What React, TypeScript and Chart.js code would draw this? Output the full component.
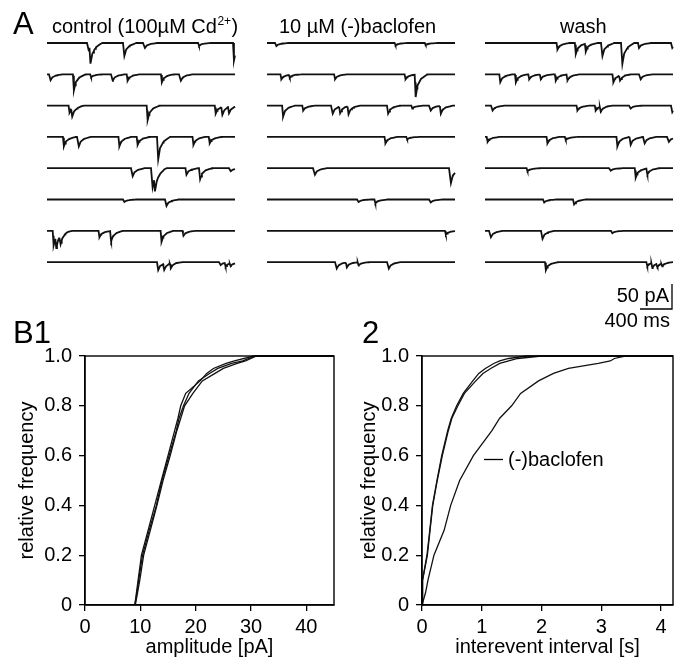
import React, { useEffect, useRef } from "react";
import { Chart, registerables } from "chart.js";

Chart.register(...registerables);

const FONT = "'Liberation Sans', Arial, Helvetica, sans-serif";
const INK = "#111111";

// ---------------- Panel A data: miniature events per sweep, [time ms, amplitude pA]
const TRACE_MS = 2350;
const SCALE_PA = 50;
const SCALE_MS = 400;
const COLUMN_TITLES = ["control (100µM Cd", "10 µM (-)baclofen", "wash"];

const CONTROL_EVENTS: number[][][] = [
  [[507, 13], [531, 35], [955, 26], [1212, 10], [1889, 6], [2325, 35]],
  [[33, 12], [324, 32], [540, 6], [810, 13], [996, 13], [1424, 16], [1661, 13]],
  [[270, 14], [303, 16], [1246, 29], [2097, 16], [2180, 16], [2263, 13]],
  [[199, 19], [386, 19], [893, 19], [1121, 16], [1378, 45], [1819, 16], [2022, 13]],
  [[1059, 16], [1308, 38], [1337, 29], [1731, 13], [1902, 22], [2284, 6]],
  [[955, 5], [1482, 13]],
  [[71, 29], [104, 22], [158, 16], [644, 13], [789, 22], [1420, 22], [1694, 10]],
  [[1378, 16], [1453, 13], [1536, 10], [2159, 6], [2221, 8], [2284, 6]],
];

const BACLOFEN_EVENTS: number[][][] = [
  [[105, 6], [1595, 5], [1972, 4]],
  [[168, 10], [273, 6], [839, 10], [1720, 10], [1846, 45]],
  [[189, 22], [441, 10], [810, 16], [902, 13], [1007, 16], [1502, 16], [1804, 6], [2035, 10], [2161, 16]],
  [[1469, 13], [1741, 5]],
  [[587, 13], [2287, 30]],
  [[1133, 5], [1343, 8], [2035, 6]],
  [[2224, 8]],
  [[860, 13], [986, 10], [1133, 7], [1511, 13]],
];

const WASH_EVENTS: number[][][] = [
  [[894, 13], [1123, 22], [1248, 16], [1456, 26], [1705, 42], [1913, 10], [2329, 10]],
  [[179, 16], [374, 16], [541, 10], [686, 10], [873, 13], [1019, 13], [1593, 16], [1676, 10], [1934, 10]],
  [[83, 10], [1144, 10], [1372, 10], [1435, 10], [1809, 6], [2329, 13]],
  [[21, 10], [769, 13], [998, 6], [1643, 19], [1809, 16], [1984, 13], [2287, 10]],
  [[520, 6], [1560, 5], [1872, 19], [2017, 13]],
  [[728, 6], [1102, 10]],
  [[62, 13], [707, 16], [1580, 5]],
  [[749, 16], [2017, 8], [2080, 10], [2142, 8], [2204, 6]],
];

// waveform of one miniature current (ms after onset, fraction of its peak)
const EVENT_SHAPE_MS = [0, 12, 35, 80, 160];
const EVENT_SHAPE_FRAC = [0, 1, 0.5, 0.2, 0];

// ---------------- Panel B1: cumulative amplitude distributions
const B1_LEVELS = [0, 0.05, 0.1, 0.2, 0.3, 0.4, 0.5, 0.6, 0.7, 0.75, 0.8, 0.85, 0.9, 0.93, 0.95, 0.97, 0.98, 1.0];
const B1_CONTROL = [9.0, 9.3, 9.6, 10.2, 11.4, 12.6, 13.8, 15.0, 16.2, 16.8, 17.3, 18.2, 20.8, 22.0, 23.2, 25.5, 27.0, 30.5];
const B1_BACLOFEN = [9.1, 9.5, 9.9, 10.6, 11.8, 13.0, 14.1, 15.4, 16.6, 17.3, 18.0, 19.5, 21.2, 23.5, 25.0, 27.5, 29.0, 31.0];
const B1_WASH = [9.0, 9.4, 9.7, 10.4, 11.6, 12.9, 13.9, 15.2, 16.5, 17.0, 17.8, 18.8, 20.5, 22.5, 24.0, 26.5, 28.5, 30.8];

// ---------------- Panel B2: cumulative interevent interval distributions
const B2_LEVELS = [0, 0.05, 0.1, 0.2, 0.3, 0.4, 0.5, 0.6, 0.7, 0.75, 0.8, 0.85, 0.9, 0.93, 0.95, 0.97, 0.98, 0.99, 1.0];
const B2_CONTROL = [0, 0.005, 0.012, 0.083, 0.13, 0.175, 0.25, 0.33, 0.43, 0.49, 0.58, 0.69, 0.85, 0.95, 1.06, 1.2, 1.3, 1.45, 1.75];
const B2_WASH = [0, 0.005, 0.015, 0.09, 0.135, 0.18, 0.255, 0.34, 0.44, 0.5, 0.6, 0.71, 0.9, 1.02, 1.15, 1.3, 1.45, 1.6, 2.0];
const B2_BACLOFEN = [0, 0.06, 0.1, 0.2, 0.37, 0.48, 0.63, 0.86, 1.17, 1.3, 1.5, 1.65, 1.95, 2.2, 2.45, 2.95, 3.15, 3.22, 3.4];

const B1_TICKS_X = { max: 45, step: 10 };
const B2_TICKS_X = { max: 4.2, step: 1 };

// ---------------- layout (pixels)
const A_W = 688;
const A_H = 350;
const COL_LEFT_PX = [47, 267, 485];
const TRACE_W_PX = 188;
const ROW0_PX = 43;
const ROW_STEP_PX = 31.3;
const PX_PER_PA = 0.5;
const SCALEBAR_CORNER_PX = [672, 309];

const MS_PER_PX = TRACE_MS / TRACE_W_PX;

function shapeAt(d: number): number {
  const n = EVENT_SHAPE_MS.length;
  if (d < 0 || d > EVENT_SHAPE_MS[n - 1]) return 0;
  for (let k = 0; k < n - 1; k++) {
    const a = EVENT_SHAPE_MS[k];
    const b = EVENT_SHAPE_MS[k + 1];
    if (d >= a && d <= b) {
      return EVENT_SHAPE_FRAC[k] + ((EVENT_SHAPE_FRAC[k + 1] - EVENT_SHAPE_FRAC[k]) * (d - a)) / (b - a);
    }
  }
  return 0;
}

function buildSweep(events: number[][], xOff: number, yOff: number) {
  const times = new Set<number>();
  for (let t = 0; t <= TRACE_MS; t += 25) times.add(t);
  times.add(TRACE_MS);
  events.forEach(([et]) => EVENT_SHAPE_MS.forEach((m) => {
    const t = et + m;
    if (t >= 0 && t <= TRACE_MS) times.add(t);
  }));
  const sorted = Array.from(times).sort((a, b) => a - b);
  return sorted.map((t) => {
    let v = 0;
    events.forEach(([et, amp]) => { v -= amp * shapeAt(t - et); });
    return { x: xOff + t, y: yOff + v };
  });
}

function zip(xs: number[], ys: number[], endX?: number) {
  const pts = xs.map((x, i) => ({ x, y: ys[i] }));
  if (endX !== undefined) pts.push({ x: endX, y: 1 });
  return pts;
}

const framePlugin = {
  id: "frame",
  afterDatasetsDraw(chart: any) {
    const { ctx, chartArea: a } = chart;
    ctx.save();
    ctx.strokeStyle = "#000";
    ctx.lineWidth = 1.4;
    ctx.strokeRect(a.left, a.top, a.right - a.left, a.bottom - a.top);
    ctx.restore();
  },
};

function cdfConfig(opts: {
  datasets: any[];
  xMax: number;
  xStep: number;
  xTitle: string;
  yWidth: number;
  xHeight: number;
  padTop: number;
  padRight: number;
  yTitlePad: number;
  extra?: any;
}) {
  const tickFont = { family: FONT, size: 20 };
  return {
    type: "line",
    data: { datasets: opts.datasets },
    options: {
      animation: false,
      responsive: false,
      maintainAspectRatio: false,
      layout: { padding: { top: opts.padTop, right: opts.padRight, left: 0, bottom: 0 } },
      plugins: { legend: { display: false }, tooltip: { enabled: false } },
      elements: { point: { radius: 0 }, line: { tension: 0 } },
      scales: {
        x: {
          type: "linear",
          min: 0,
          max: opts.xMax,
          grid: { display: true, drawOnChartArea: false, drawTicks: true, tickLength: 6, color: "#000", lineWidth: 1.3 },
          border: { display: true, color: "#000", width: 1.4 },
          ticks: { stepSize: opts.xStep, includeBounds: false, color: "#000", font: tickFont, padding: 4, maxRotation: 0 },
          title: { display: true, text: opts.xTitle, color: "#000", font: tickFont, padding: { top: 0, bottom: 4 } },
          afterFit: (s: any) => { s.height = opts.xHeight; },
        },
        y: {
          type: "linear",
          min: 0,
          max: 1,
          grid: { display: true, drawOnChartArea: false, drawTicks: true, tickLength: 6, color: "#000", lineWidth: 1.3 },
          border: { display: true, color: "#000", width: 1.4 },
          ticks: {
            stepSize: 0.2,
            color: "#000",
            font: tickFont,
            padding: 7,
            callback: (v: any) => (Math.abs(v) < 1e-9 ? "0" : Number(v).toFixed(1)),
          },
          title: { display: true, text: "relative frequency", color: "#000", font: tickFont, padding: { top: opts.yTitlePad, bottom: 0 } },
          afterFit: (s: any) => { s.width = opts.yWidth; },
        },
      },
    },
    plugins: opts.extra ? [framePlugin, opts.extra] : [framePlugin],
  } as any;
}

function curve(pts: any[]) {
  return { data: pts, borderColor: INK, borderWidth: 1.3, pointRadius: 0, fill: false, clip: false };
}

export default function App() {
  const aRef = useRef<HTMLCanvasElement>(null);
  const b1Ref = useRef<HTMLCanvasElement>(null);
  const b2Ref = useRef<HTMLCanvasElement>(null);

  useEffect(() => {
    const charts: Chart[] = [];
    // -------- Panel A
    const xMin = -COL_LEFT_PX[0] * MS_PER_PX;
    const xMax = (A_W - COL_LEFT_PX[0]) * MS_PER_PX;
    const yMax = ROW0_PX / PX_PER_PA;
    const yMin = yMax - A_H / PX_PER_PA;
    const columns = [CONTROL_EVENTS, BACLOFEN_EVENTS, WASH_EVENTS];
    const sweepSets: any[] = [];
    columns.forEach((col, c) => {
      const xOff = (COL_LEFT_PX[c] - COL_LEFT_PX[0]) * MS_PER_PX;
      col.forEach((events, r) => {
        const yOff = (-r * ROW_STEP_PX) / PX_PER_PA;
        sweepSets.push({
          data: buildSweep(events, xOff, yOff),
          borderColor: INK,
          borderWidth: 1.8,
          pointRadius: 0,
          fill: false,
          clip: false,
        });
      });
    });
    const cx = (SCALEBAR_CORNER_PX[0] - COL_LEFT_PX[0]) * MS_PER_PX;
    const cy = yMax - SCALEBAR_CORNER_PX[1] / PX_PER_PA;
    sweepSets.push({
      data: [
        { x: cx - SCALE_MS, y: cy },
        { x: cx, y: cy },
        { x: cx, y: cy + SCALE_PA },
      ],
      borderColor: "#000",
      borderWidth: 1.3,
      pointRadius: 0,
      fill: false,
      clip: false,
    });

    const textPlugin = {
      id: "aText",
      afterDraw(chart: any) {
        const ctx = chart.ctx;
        ctx.save();
        ctx.fillStyle = "#000";
        ctx.textBaseline = "alphabetic";
        ctx.textAlign = "left";
        ctx.font = `31px ${FONT}`;
        ctx.fillText("A", 13, 34);
        ctx.fillText("B1", 13, 343);
        ctx.fillText("2", 362, 343);
        ctx.font = `20px ${FONT}`;
        // control title with superscript
        const t0 = COLUMN_TITLES[0];
        ctx.fillText(t0, 52, 33);
        let x = 52 + ctx.measureText(t0).width;
        ctx.font = `12px ${FONT}`;
        ctx.fillText("2+", x + 0.5, 25);
        x += ctx.measureText("2+").width + 1;
        ctx.font = `20px ${FONT}`;
        ctx.fillText(")", x, 33);
        ctx.fillText(COLUMN_TITLES[1], 279, 33);
        ctx.fillText(COLUMN_TITLES[2], 560, 33);
        ctx.textAlign = "right";
        ctx.fillText(`${SCALE_PA} pA`, 669, 302);
        ctx.fillText(`${SCALE_MS} ms`, 670, 327);
        ctx.restore();
      },
    };

    if (aRef.current) {
      charts.push(
        new Chart(aRef.current, {
          type: "line",
          data: { datasets: sweepSets },
          options: {
            animation: false,
            responsive: false,
            maintainAspectRatio: false,
            layout: { padding: 0 },
            plugins: { legend: { display: false }, tooltip: { enabled: false } },
            scales: {
              x: { type: "linear", display: false, min: xMin, max: xMax },
              y: { type: "linear", display: false, min: yMin, max: yMax },
            },
          },
          plugins: [textPlugin],
        } as any)
      );
    }

    // -------- Panel B1
    if (b1Ref.current) {
      charts.push(
        new Chart(
          b1Ref.current,
          cdfConfig({
            datasets: [
              curve(zip(B1_CONTROL, B1_LEVELS, B1_TICKS_X.max)),
              curve(zip(B1_BACLOFEN, B1_LEVELS, B1_TICKS_X.max)),
              curve(zip(B1_WASH, B1_LEVELS, B1_TICKS_X.max)),
            ],
            xMax: B1_TICKS_X.max,
            xStep: B1_TICKS_X.step,
            xTitle: "amplitude [pA]",
            yWidth: 85,
            xHeight: 58,
            padTop: 26,
            padRight: 10,
            yTitlePad: 15,
          })
        )
      );
    }

    // -------- Panel B2
    const labelPlugin = {
      id: "bacLabel",
      afterDraw(chart: any) {
        const ctx = chart.ctx;
        ctx.save();
        ctx.strokeStyle = "#000";
        ctx.lineWidth = 1.3;
        ctx.beginPath();
        ctx.moveTo(140, 129.5);
        ctx.lineTo(159, 129.5);
        ctx.stroke();
        ctx.fillStyle = "#000";
        ctx.font = `20px ${FONT}`;
        ctx.textAlign = "left";
        ctx.textBaseline = "alphabetic";
        ctx.fillText("(-)baclofen", 164, 136);
        ctx.restore();
      },
    };
    if (b2Ref.current) {
      charts.push(
        new Chart(
          b2Ref.current,
          cdfConfig({
            datasets: [
              curve(zip(B2_CONTROL, B2_LEVELS, B2_TICKS_X.max)),
              curve(zip(B2_WASH, B2_LEVELS, B2_TICKS_X.max)),
              curve(zip(B2_BACLOFEN, B2_LEVELS, B2_TICKS_X.max)),
            ],
            xMax: B2_TICKS_X.max,
            xStep: B2_TICKS_X.step,
            xTitle: "interevent interval [s]",
            yWidth: 78,
            xHeight: 58,
            padTop: 26,
            padRight: 15,
            yTitlePad: 13,
            extra: labelPlugin,
          })
        )
      );
    }
    return () => charts.forEach((c) => c.destroy());
  }, []);

  return (
    <div style={{ position: "absolute", left: 0, top: 0, width: 688, height: 663, background: "#fff" }}>
      <canvas ref={aRef} width={A_W} height={A_H} style={{ position: "absolute", left: 0, top: 0 }} />
      <canvas ref={b1Ref} width={344} height={333} style={{ position: "absolute", left: 0, top: 330 }} />
      <canvas ref={b2Ref} width={344} height={333} style={{ position: "absolute", left: 344, top: 330 }} />
    </div>
  );
}
